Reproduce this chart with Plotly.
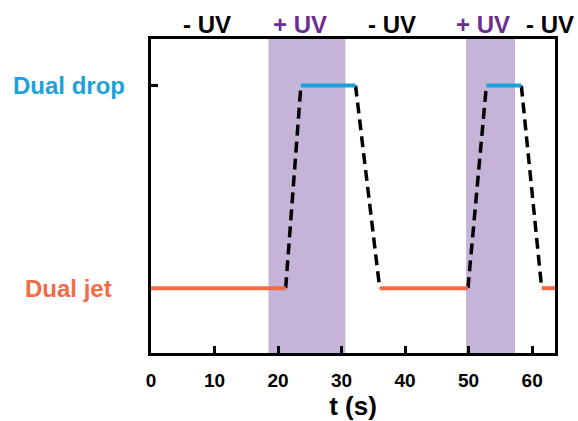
import plotly.graph_objects as go

# States: 0 = Dual jet, 1 = Dual drop
state_labels = ["Dual jet", "Dual drop"]
state_values = [0, 1]

# UV-on intervals (s)
uv_on_start = [18.5, 49.6]
uv_on_end = [30.6, 57.3]

# Top labels
uv_label_text = ["- UV", "+ UV", "- UV", "+ UV", "- UV"]
uv_label_t = [8.8, 23.4, 37.9, 52.3, 62.8]

# Dual jet segments (t start, t end)
jet_t0 = [0, 36.0, 61.5]
jet_t1 = [21.2, 49.9, 63.6]

# Dual drop segments
drop_t0 = [23.6, 52.8]
drop_t1 = [32.2, 58.3]

# Transitions (dashed)
trans_t_from = [21.2, 32.2, 49.9, 58.3]
trans_s_from = [0, 1, 0, 1]
trans_t_to = [23.6, 36.0, 52.8, 61.5]
trans_s_to = [1, 0, 1, 0]

x_ticks = [0, 10, 20, 30, 40, 50, 60]

ORANGE = "#f26b45"
BLUE = "#1da1db"
PURPLE_BAND = "#c5b3d8"
PURPLE_TEXT = "#6a2e8f"
FONT = "Liberation Sans, Arial"

fig = go.Figure()

for i in range(len(trans_t_from)):
    fig.add_trace(go.Scatter(
        x=[trans_t_from[i], trans_t_to[i]],
        y=[trans_s_from[i], trans_s_to[i]],
        mode="lines",
        line=dict(color="black", width=3.5, dash="11px,6px"),
        showlegend=False, hoverinfo="skip"))

for a, b in zip(jet_t0, jet_t1):
    fig.add_trace(go.Scatter(x=[a, b], y=[0, 0], mode="lines",
                             line=dict(color=ORANGE, width=4),
                             showlegend=False))
for a, b in zip(drop_t0, drop_t1):
    fig.add_trace(go.Scatter(x=[a, b], y=[1, 1], mode="lines",
                             line=dict(color=BLUE, width=4),
                             showlegend=False))

for a, b in zip(uv_on_start, uv_on_end):
    fig.add_shape(type="rect", xref="x", yref="paper", x0=a, x1=b, y0=0, y1=1,
                  fillcolor=PURPLE_BAND, line=dict(width=0), layer="below")

for txt, t in zip(uv_label_text, uv_label_t):
    col = PURPLE_TEXT if txt.startswith("+") else "black"
    fig.add_annotation(x=t, y=1.046, xref="x", yref="paper", yanchor="middle",
                       text="<b>" + txt + "</b>", showarrow=False,
                       font=dict(size=24, color=col, family=FONT))

label_colors = [ORANGE, BLUE]
for lab, v, c in zip(state_labels, state_values, label_colors):
    fig.add_annotation(x=-0.203, y=v, xref="paper", yref="y", xanchor="center",
                       yanchor="middle",
                       text="<b>" + lab + "</b>", showarrow=False,
                       font=dict(size=24, color=c, family=FONT))

fig.update_layout(
    width=578, height=421,
    margin=dict(l=151, r=23, t=39, b=68),
    paper_bgcolor="white", plot_bgcolor="white",
    font=dict(family=FONT, color="black"),
    xaxis=dict(range=[0, 63.6], tickvals=x_ticks,
               ticktext=["<b>%d</b>" % v for v in x_ticks],
               ticks="inside", ticklen=7, tickwidth=3, tickcolor="black",
               showline=True, linewidth=3, linecolor="black", mirror=True,
               showgrid=False, zeroline=False, tickfont=dict(size=19),
               ticklabelstandoff=8, automargin=False,
               title=dict(text="<b>t (s)</b>", font=dict(size=26), standoff=6)),
    yaxis=dict(range=[-0.32, 1.23], tickvals=[1], ticktext=[""],
               ticks="inside", ticklen=7, tickwidth=3, tickcolor="black",
               showline=True, linewidth=3, linecolor="black", mirror=True,
               showgrid=False, zeroline=False, automargin=False),
)

fig.write_html("out.html", config={"displayModeBar": False},
               post_script="document.body.style.margin='0';document.body.style.overflow='hidden';")
